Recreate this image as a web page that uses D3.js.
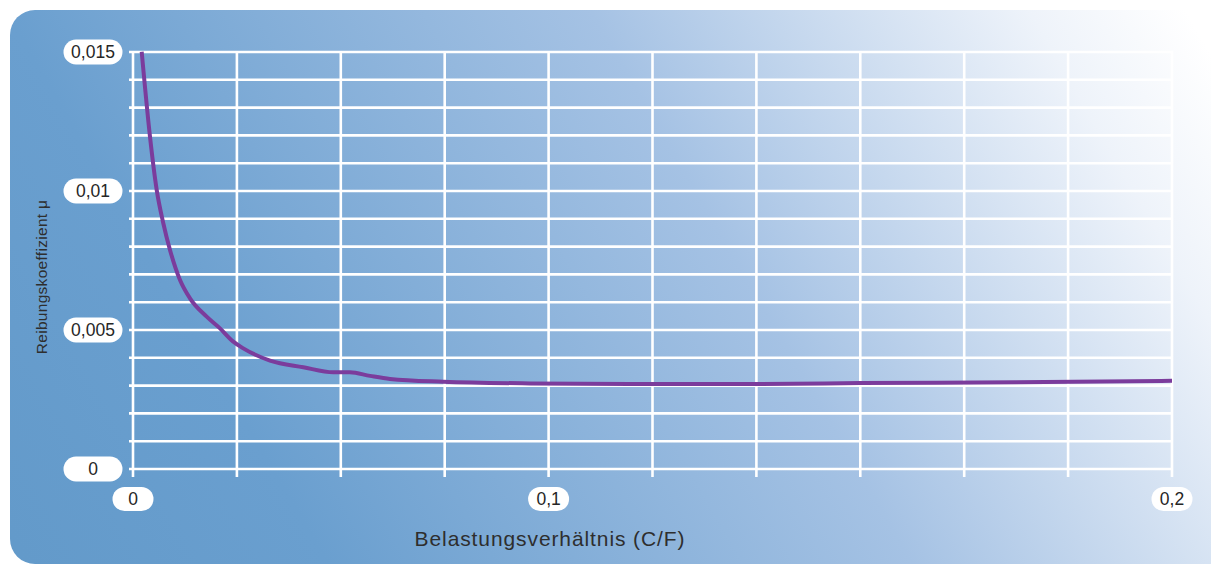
<!DOCTYPE html>
<html>
<head>
<meta charset="utf-8">
<script src="https://cdn.jsdelivr.net/npm/d3@7"></script>
<style>
  html, body { margin: 0; padding: 0; background: #ffffff; }
  svg { display: block; }
  text { font-family: "Liberation Sans", Arial, Helvetica, sans-serif; }
</style>
</head>
<body>
<svg id="chart" width="1211" height="565"></svg>
<script>
// ---- Data ----
const loadRatio = [0.00209, 0.00409, 0.0057, 0.00729, 0.0089, 0.01131, 0.01371, 0.01773, 0.02093, 0.02413, 0.02654, 0.03296, 0.04098, 0.04819, 0.05221, 0.05703, 0.06184, 0.07467, 0.09553, 0.11306, 0.1333, 0.15, 0.175, 0.2];
const frictionCoef = [0.01501, 0.01195, 0.01004, 0.00884, 0.00788, 0.0068, 0.00614, 0.00548, 0.00506, 0.00458, 0.00434, 0.0039, 0.00366, 0.00348, 0.00348, 0.00335, 0.00324, 0.00314, 0.00308, 0.00306, 0.00306, 0.00309, 0.00312, 0.00317];
const xTickValues = [0, 0.1, 0.2];
const xTickLabels = ["0", "0,1", "0,2"];
const xTickGridIndex = [0, 4, 10];   // the labelled values sit on these vertical grid lines
const yTickValues = [0, 0.005, 0.01, 0.015];
const yTickLabels = ["0", "0,005", "0,01", "0,015"];
const xGridCount = 10;               // evenly spaced vertical grid intervals
const yGridValues = [0, 0.001, 0.002, 0.003, 0.004, 0.005, 0.006, 0.007, 0.008, 0.009, 0.01, 0.011, 0.012, 0.013, 0.014, 0.015];
const xTitle = "Belastungsverhältnis (C/F)";
const yTitle = "Reibungskoeffizient μ";

// ---- Layout ----
const svg = d3.select("#chart");
const plot = { left: 133, right: 1172, top: 52, bottom: 469 };
const gridX = d3.scaleLinear().domain([0, xGridCount]).range([plot.left, plot.right]);
const x = d3.scaleLinear()
  .domain(xTickValues)
  .range(xTickGridIndex.map(i => gridX(i)));
const y = d3.scaleLinear().domain([0, 0.015]).range([plot.bottom, plot.top]);

// Background gradient
const defs = svg.append("defs");
const grad = defs.append("linearGradient")
  .attr("id", "bg")
  .attr("gradientUnits", "userSpaceOnUse")
  .attr("x1", -225).attr("y1", 131)
  .attr("x2", 881).attr("y2", -513);
[[0, "#639aca"], [0.203, "#6a9fcf"], [0.598, "#a5c2e4"], [0.894, "#eef3fa"], [1, "#ffffff"]]
  .forEach(([o, c]) => grad.append("stop").attr("offset", o).attr("stop-color", c));

svg.append("rect")
  .attr("x", 10).attr("y", 10)
  .attr("width", 1260).attr("height", 554)
  .attr("rx", 25).attr("ry", 25)
  .attr("fill", "url(#bg)");

// Grid
const grid = svg.append("g").attr("stroke", "#ffffff").attr("stroke-width", 2.6);
grid.selectAll("line.h").data(yGridValues).join("line")
  .attr("class", "h")
  .attr("x1", gridX(0) - 4).attr("x2", gridX(xGridCount) + 1)
  .attr("y1", d => y(d)).attr("y2", d => y(d));
grid.selectAll("line.v").data(d3.range(xGridCount + 1)).join("line")
  .attr("class", "v")
  .attr("x1", d => gridX(d)).attr("x2", d => gridX(d))
  .attr("y1", y(0.015) - 1).attr("y2", y(0) + 8);

// Curve
const line = d3.line()
  .x((d, i) => x(loadRatio[i]))
  .y(d => y(d))
  .curve(d3.curveMonotoneX);
svg.append("path")
  .datum(frictionCoef)
  .attr("d", line)
  .attr("fill", "none")
  .attr("stroke", "#7b3c9c")
  .attr("stroke-width", 4)
  .attr("stroke-linejoin", "round")
  .attr("stroke-linecap", "butt");

// Y tick pills
const yLab = svg.append("g");
yTickValues.forEach((v, i) => {
  const g = yLab.append("g").attr("transform", `translate(${gridX(0) - 40},${y(v)})`);
  g.append("rect").attr("x", -29.5).attr("y", -12.5).attr("width", 59).attr("height", 25)
    .attr("rx", 12.5).attr("fill", "#ffffff");
  g.append("text").attr("text-anchor", "middle").attr("dy", "0.36em")
    .attr("font-size", 17.5).attr("fill", "#262626").text(yTickLabels[i]);
});

// X tick pills
const xLab = svg.append("g");
xTickValues.forEach((v, i) => {
  const g = xLab.append("g").attr("transform", `translate(${x(v)},${y(0) + 30})`);
  g.append("rect").attr("x", -20.5).attr("y", -12).attr("width", 41).attr("height", 24)
    .attr("rx", 12).attr("fill", "#ffffff");
  g.append("text").attr("text-anchor", "middle").attr("dy", "0.36em")
    .attr("font-size", 17.5).attr("fill", "#262626").text(xTickLabels[i]);
});

// Axis titles
svg.append("text")
  .attr("x", 550).attr("y", 546)
  .attr("text-anchor", "middle")
  .attr("font-size", 21).attr("letter-spacing", 0.9).attr("fill", "#2e2e2e")
  .text(xTitle);

svg.append("text")
  .attr("transform", "translate(47,277) rotate(-90)")
  .attr("text-anchor", "middle")
  .attr("font-size", 15.5).attr("letter-spacing", 0.3).attr("fill", "#2e2e2e")
  .text(yTitle);
</script>
</body>
</html>
